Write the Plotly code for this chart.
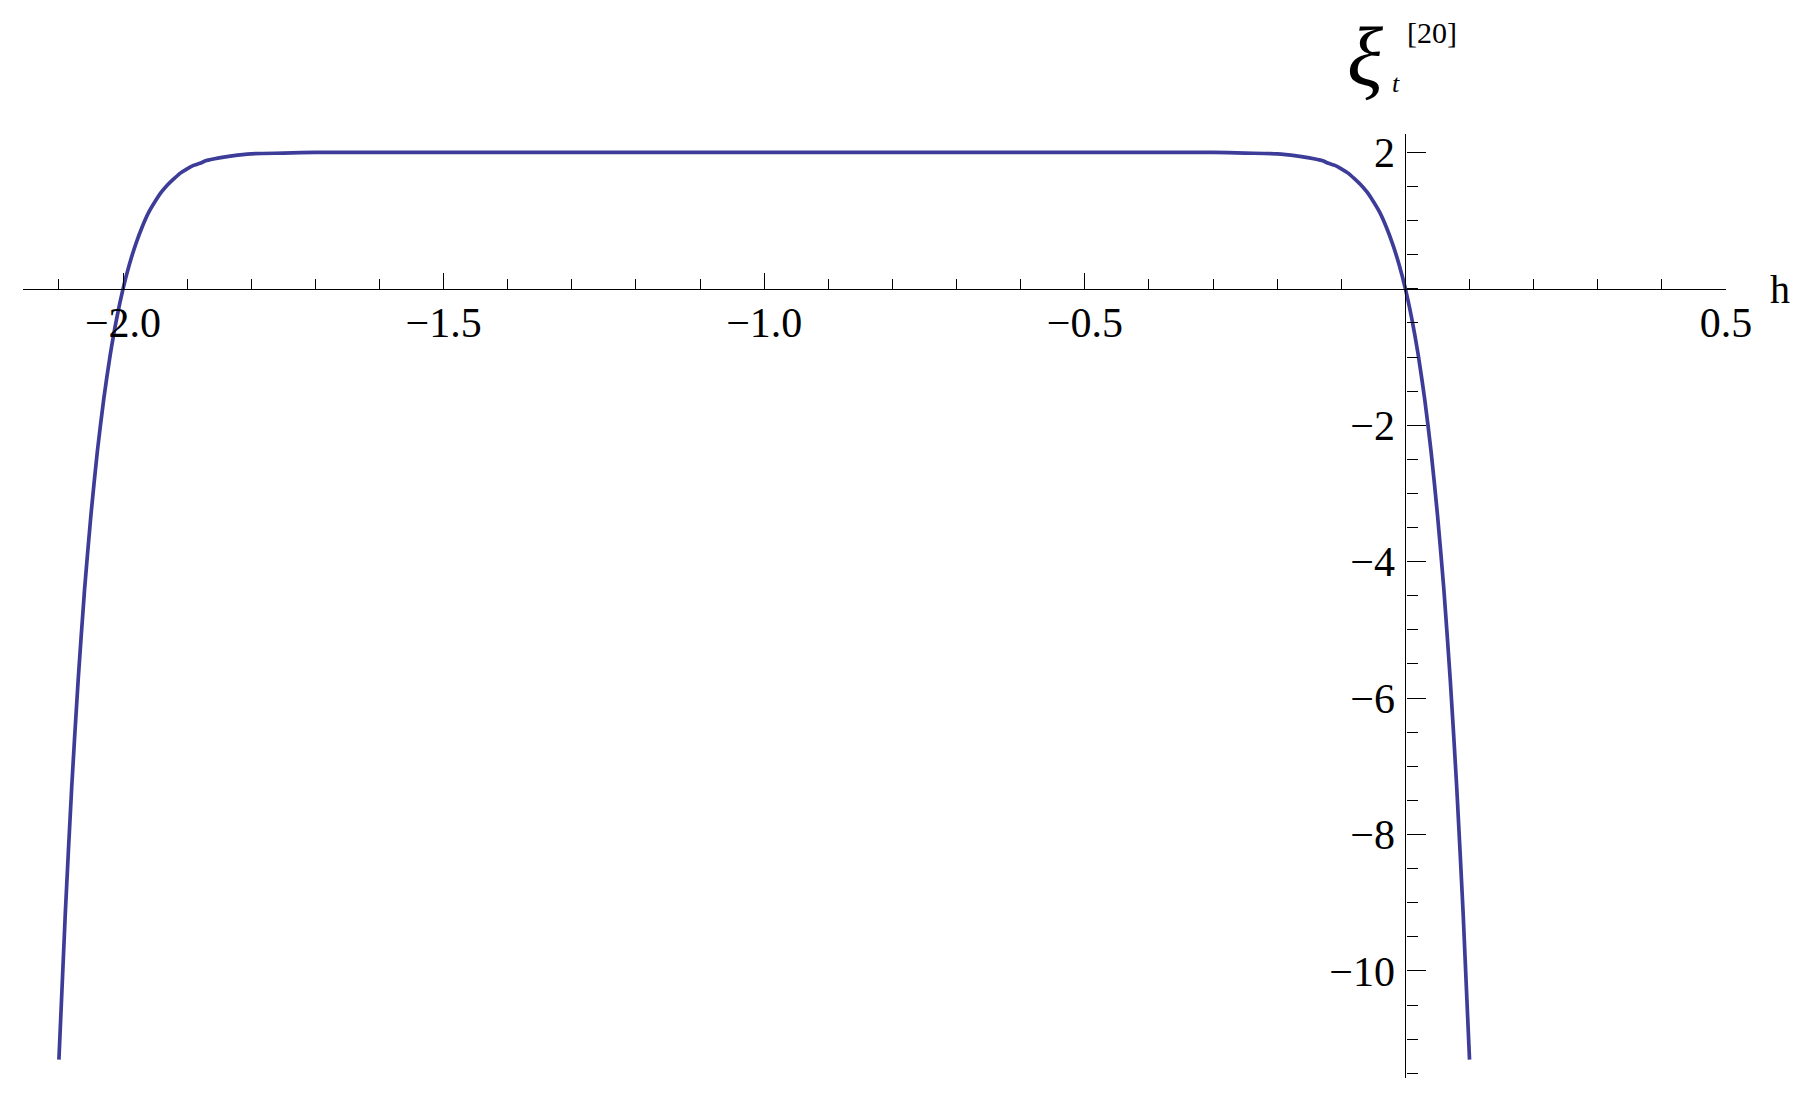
import plotly.graph_objects as go

# curve values (h, xi)
h = [-2.10, -2.09, -2.08, -2.07, -2.06, -2.05, -2.04, -2.03, -2.02, -2.01,
     -2.00, -1.99, -1.98, -1.97, -1.96, -1.95, -1.94, -1.93, -1.92, -1.91,
     -1.90, -1.89, -1.88, -1.87, -1.85, -1.83, -1.80, -1.75, -1.70, -1.50,
     -1.00, -0.50, -0.30, -0.25, -0.20, -0.17, -0.15, -0.13, -0.12, -0.11,
     -0.10, -0.09, -0.08, -0.07, -0.06, -0.05, -0.04, -0.03, -0.02, -0.01,
     0.00, 0.01, 0.02, 0.03, 0.04, 0.05, 0.06, 0.07, 0.08, 0.09, 0.10]
xi = [-11.30, -9.15, -7.30, -5.74, -4.41, -3.31, -2.38, -1.61, -0.97, -0.44,
      0.00, 0.36, 0.66, 0.91, 1.12, 1.28, 1.42, 1.53, 1.62, 1.70,
      1.76, 1.81, 1.84, 1.88, 1.92, 1.95, 1.98, 1.99, 2.00, 2.00,
      2.00, 2.00, 2.00, 1.99, 1.98, 1.95, 1.92, 1.88, 1.84, 1.81,
      1.76, 1.70, 1.62, 1.53, 1.42, 1.28, 1.12, 0.91, 0.66, 0.36,
      0.00, -0.44, -0.97, -1.61, -2.38, -3.31, -4.41, -5.74, -7.30, -9.15, -11.30]

x_ticks = [-2.0, -1.5, -1.0, -0.5, 0.5]
x_labels = ["\u22122.0", "\u22121.5", "\u22121.0", "\u22120.5", "0.5"]
y_ticks = [-10, -8, -6, -4, -2, 2]
y_labels = ["\u221210", "\u22128", "\u22126", "\u22124", "\u22122", "2"]

x_range = [-2.156, 0.5]
y_range = [-11.57, 2.27]

fig = go.Figure()
fig.add_trace(go.Scatter(
    x=h, y=xi, mode="lines",
    line=dict(color="#3d3d99", width=3.7, shape="spline", smoothing=0.6),
    hoverinfo="skip"))

serif = "Liberation Serif, Times New Roman, serif"

# axes crossing at the origin, mathematica style
fig.update_xaxes(
    range=x_range, anchor="free", automargin=False,
    position=(0 - y_range[0]) / (y_range[1] - y_range[0]),
    showgrid=False, zeroline=False,
    showline=True, linecolor="black", linewidth=1.2,
    tickmode="array", tickvals=x_ticks, ticktext=x_labels,
    ticks="inside", ticklen=16, tickwidth=1.2, tickcolor="black",
    minor=dict(dtick=0.1, tick0=0, ticks="inside", ticklen=10, tickwidth=1.2, tickcolor="black"),
    ticklabelstandoff=-3,
    tickfont=dict(family=serif, size=42, color="black"))
fig.update_yaxes(
    range=y_range, anchor="free", automargin=False,
    position=(0 - x_range[0]) / (x_range[1] - x_range[0]),
    showgrid=False, zeroline=False,
    showline=True, linecolor="black", linewidth=1.2,
    tickmode="array", tickvals=y_ticks, ticktext=y_labels,
    ticks="inside", ticklen=19, tickwidth=1.2, tickcolor="black",
    minor=dict(dtick=0.5, tick0=0, ticks="inside", ticklen=11, tickwidth=1.2, tickcolor="black"),
    ticklabelstandoff=2,
    tickfont=dict(family=serif, size=42, color="black"))

# axis labels as annotations
fig.add_annotation(text="h", xref="paper", yref="paper", x=1.0247, y=0.8353,
                   xanchor="left", yanchor="middle", showarrow=False,
                   font=dict(family=serif, size=40, color="black"))
fig.add_annotation(text="<i>\u03be</i>", xref="paper", yref="paper", x=0.7765, y=1.0826,
                   xanchor="left", yanchor="middle", showarrow=False,
                   font=dict(family=serif, size=84, color="black"))
fig.add_annotation(text="<i>t</i>", xref="paper", yref="paper", x=0.8025, y=1.0535,
                   xanchor="left", yanchor="middle", showarrow=False,
                   font=dict(family=serif, size=26, color="black"))
fig.add_annotation(text="[20]", xref="paper", yref="paper", x=0.8118, y=1.1075,
                   xanchor="left", yanchor="middle", showarrow=False,
                   font=dict(family=serif, size=30, color="black"))

# page body has an 8px margin, so the figure is a bit smaller than the window
fig.update_layout(
    width=1806, height=1097,
    margin=dict(l=15, r=88, t=126, b=27),
    plot_bgcolor="white", paper_bgcolor="white",
    showlegend=False)

fig.write_html("out.html")
